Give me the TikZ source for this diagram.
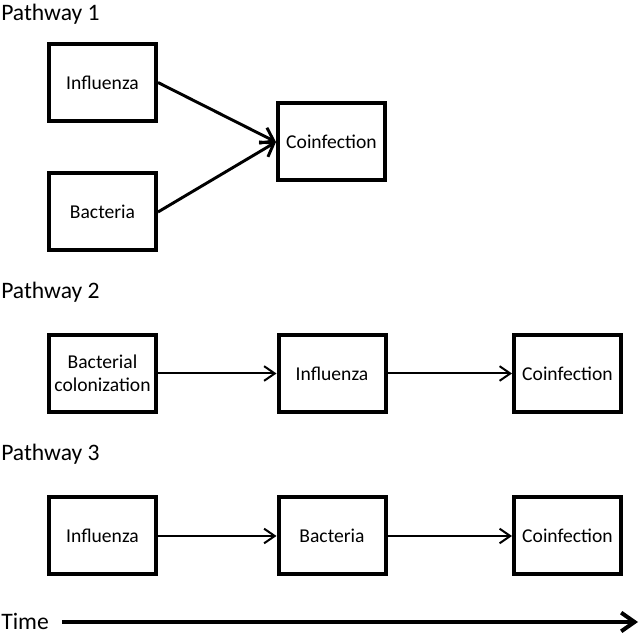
\documentclass[tikz,border=0pt]{standalone}
\usepackage{fontspec}
\setmainfont{Carlito}
\usetikzlibrary{arrows.meta}
\tikzset{
  box/.style={draw, line width=3pt, minimum width=80.25pt, minimum height=57.75pt, inner sep=0pt, align=center, font=\fontsize{14.7}{17.6}\selectfont},
  plabel/.style={anchor=west, inner sep=0pt, font=\fontsize{17.7}{20}\selectfont},
  thinarrow/.style={line width=1.5pt, -{Straight Barb[length=8pt,width=11pt,line width=1.5pt]}},
  midarrow/.style={line width=2.2pt, -{Straight Barb[length=9pt,width=13pt,line width=2.2pt]}},
  timearrow/.style={line width=3.5pt, -{Straight Barb[length=10pt,width=14pt,line width=3pt]}}
}
\begin{document}
\begin{tikzpicture}[x=0.75pt,y=-0.75pt]
\useasboundingbox (0,0) rectangle (640,634);
% Pathway 1
\node[plabel] (p1) at (1,14) {Pathway 1};
\node[box] (inf1) at (102.5,82.5) {Influenza};
\node[box] (bac1) at (102.5,212) {Bacteria};
\node[box] (coi1) at (331.5,142) {Coinfection};
\draw[midarrow] (inf1.east) -- (coi1.west);
\draw[midarrow] (bac1.east) -- (coi1.west);
% Pathway 2
\node[plabel] (p2) at (1,292) {Pathway 2};
\node[box] (bcol2) at (102.5,373.5) {Bacterial\\colonization};
\node[box] (inf2) at (332,373.5) {Influenza};
\node[box] (coi2) at (567.5,373.5) {Coinfection};
\draw[thinarrow] (bcol2.east) -- (inf2.west);
\draw[thinarrow] (inf2.east) -- (coi2.west);
% Pathway 3
\node[plabel] (p3) at (1,454) {Pathway 3};
\node[box] (inf3) at (102.5,536) {Influenza};
\node[box] (bac3) at (332,536) {Bacteria};
\node[box] (coi3) at (567.5,536) {Coinfection};
\draw[thinarrow] (inf3.east) -- (bac3.west);
\draw[thinarrow] (bac3.east) -- (coi3.west);
% Time
\node[plabel] (time) at (1,621) {Time};
\coordinate (tend) at (638,622);
\draw[timearrow] (62,622) -- (tend);
\end{tikzpicture}
\end{document}
